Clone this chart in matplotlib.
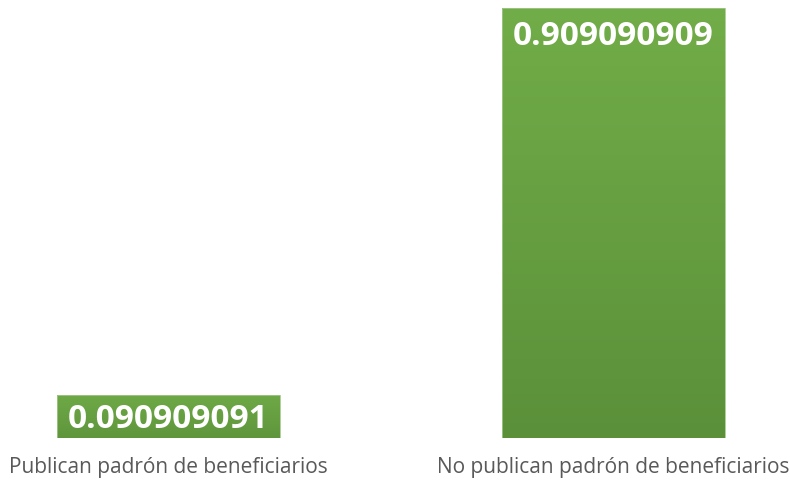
import matplotlib
matplotlib.use("Agg")
import matplotlib.pyplot as plt
import numpy as np
from matplotlib.colors import LinearSegmentedColormap

categories = ["Publican padrón de beneficiarios", "No publican padrón de beneficiarios"]
values = [0.090909091, 0.909090909]
value_labels = ["0.090909091", "0.909090909"]

fig = plt.figure(figsize=(7.9, 4.8), dpi=100)
ax = fig.add_axes([0, 42/480, 1, 438/480])
ax.set_xlim(-168.5/445, (790-168.5)/445)
ax.set_ylim(0, 0.909090909 * 438/430)
ax.axis("off")

cmap = LinearSegmentedColormap.from_list("g", [(0.357, 0.565, 0.227), (0.443, 0.678, 0.282)])
x = np.arange(len(categories))
bars = ax.bar(x, values, width=0.5, color="none", edgecolor="#a3c78a", linewidth=0.6, zorder=2)
grad = np.linspace(0, 1, 256).reshape(-1, 1)
for b in bars:
    x0, y0 = b.get_x(), b.get_y()
    w, h = b.get_width(), b.get_height()
    im = ax.imshow(grad, cmap=cmap, origin="lower", aspect="auto",
                   extent=[x0, x0 + w, y0, y0 + h], zorder=1, vmin=-0.3 if h < 0.2 else 0, vmax=1.2 if h < 0.2 else 1)
    im.set_clip_path(b)

for i, (v, lab) in enumerate(zip(values, value_labels)):
    yy = v / 2 - 0.006 if v < 0.2 else v - 0.061
    ax.text(i, yy, lab, ha="center", va="center", color="white",
            fontsize=24, fontweight="bold", family="Open Sans", zorder=3)

for i, c in enumerate(categories):
    fig.text((168.5 + 445 * i) / 790, 1 - 467/480, c, ha="center", va="center",
             color="#595959", fontsize=15, family="Open Sans")

fig.savefig("out.png", dpi=100)
